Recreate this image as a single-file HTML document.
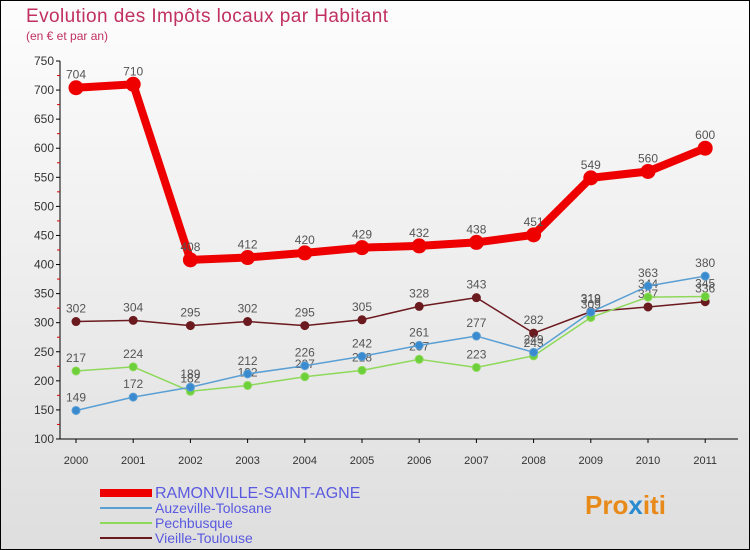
<!DOCTYPE html>
<html><head><meta charset="utf-8"><style>
body{margin:0;width:750px;height:550px;overflow:hidden;font-family:"Liberation Sans",sans-serif}
svg{display:block}
</style></head><body>
<svg id="chart" width="750" height="550" xmlns="http://www.w3.org/2000/svg">
<defs><linearGradient id="bg" x1="0" y1="0" x2="0" y2="1"><stop offset="0" stop-color="#fdfdfd"/><stop offset="1" stop-color="#dedede"/></linearGradient></defs>
<rect x="0.5" y="0.5" width="749" height="549" fill="url(#bg)" stroke="#000"/>
<text x="26" y="22" font-size="19" textLength="362" fill="#c03060">Evolution des Impôts locaux par Habitant</text>
<text x="26" y="40" font-size="12" fill="#c03060">(en € et par an)</text>
<g id="axes"></g><g id="series"></g><g id="legend"></g>
<text x="585" y="514" font-size="26" font-weight="bold" fill="#e88a1a">Pro<tspan fill="#2a8ad0">x</tspan>iti</text>
</svg>
<script>
const years=["2000","2001","2002","2003","2004","2005","2006","2007","2008","2009","2010","2011"];
const yTicks=[100,150,200,250,300,350,400,450,500,550,600,650,700,750];
const ramonville=[704,710,408,412,420,429,432,438,451,549,560,600];
const auzeville=[149,172,189,212,226,242,261,277,249,318,363,380];
const pechbusque=[217,224,182,192,207,218,237,223,243,309,344,345];
const vieille=[302,304,295,302,295,305,328,343,282,319,327,336];
const NS="http://www.w3.org/2000/svg";
const X=i=>76+i*57.2;
const Y=v=>61+(750-v)*0.5815;
function mk(tag,attrs,parent,txt){const e=document.createElementNS(NS,tag);for(const k in attrs)e.setAttribute(k,attrs[k]);if(txt!==undefined)e.textContent=txt;parent.appendChild(e);return e;}
const ax=document.getElementById('axes');
let l=mk('line',{x1:60,y1:Y(750),x2:60,y2:Y(100),stroke:'#000'},ax);


l=mk('line',{x1:60,y1:Y(100),x2:738,y2:Y(100),stroke:'#000'},ax);


yTicks.forEach((v,i)=>{
  mk('line',{x1:56,y1:Y(v),x2:60,y2:Y(v),stroke:'#000'},ax);
  if(i<yTicks.length-1)mk('line',{x1:57,y1:Y(v+25),x2:60,y2:Y(v+25),stroke:'#d00'},ax);
  const t=mk('text',{x:54,y:Y(v)+4,'font-size':12,'text-anchor':'end',fill:'#333'},ax,String(v));
  
  
});
years.forEach((y,i)=>{
  mk('line',{x1:X(i),y1:Y(100),x2:X(i),y2:Y(100)+4,stroke:'#000'},ax);
  const t=mk('text',{x:X(i),y:464,'font-size':11,'text-anchor':'middle',fill:'#333'},ax,y);
  
  
});
const sg=document.getElementById('series');
function series(data,color,fill,w,r,name){
  const g=mk('g',{},sg);
  
  
  mk('polyline',{points:data.map((v,i)=>X(i)+','+Y(v)).join(' '),fill:'none',stroke:color,'stroke-width':w,'stroke-linejoin':'round'},g);
  data.forEach((v,i)=>{
    const c=mk('circle',{cx:X(i),cy:Y(v),r:r,fill:fill,stroke:color,'stroke-width':1},g);
    
    
    const t=mk('text',{x:X(i),y:Y(v)-9,'font-size':12,'text-anchor':'middle',fill:'#555'},g,String(v));
    
    
  });
}
series(vieille,'#6b1a1f','#6b1a1f',1.5,4,'vieille-toulouse');
series(pechbusque,'#8ed85a','#6cd03a',1.5,4,'pechbusque');
series(auzeville,'#5a9fd4','#3a8ad0',1.5,4,'auzeville-tolosane');
series(ramonville,'#ee0000','#ee0000',8,7,'ramonville');
const lg=document.getElementById('legend');
const items=[['RAMONVILLE-SAINT-AGNE','#ee0000',8,16],['Auzeville-Tolosane','#5a9fd4',2,14],['Pechbusque','#8ed85a',2,14],['Vieille-Toulouse','#6b1a1f',2,14]];
items.forEach((it,i)=>{
  const y=493+i*15;
  const g=mk('g',{},lg);
  
  
  mk('line',{x1:100,y1:y,x2:152,y2:y,stroke:it[1],'stroke-width':it[2]},g);
  mk('text',{x:155,y:y+5,'font-size':it[3],fill:'#5a5ae0'},g,it[0]);
});
</script>
</body></html>
